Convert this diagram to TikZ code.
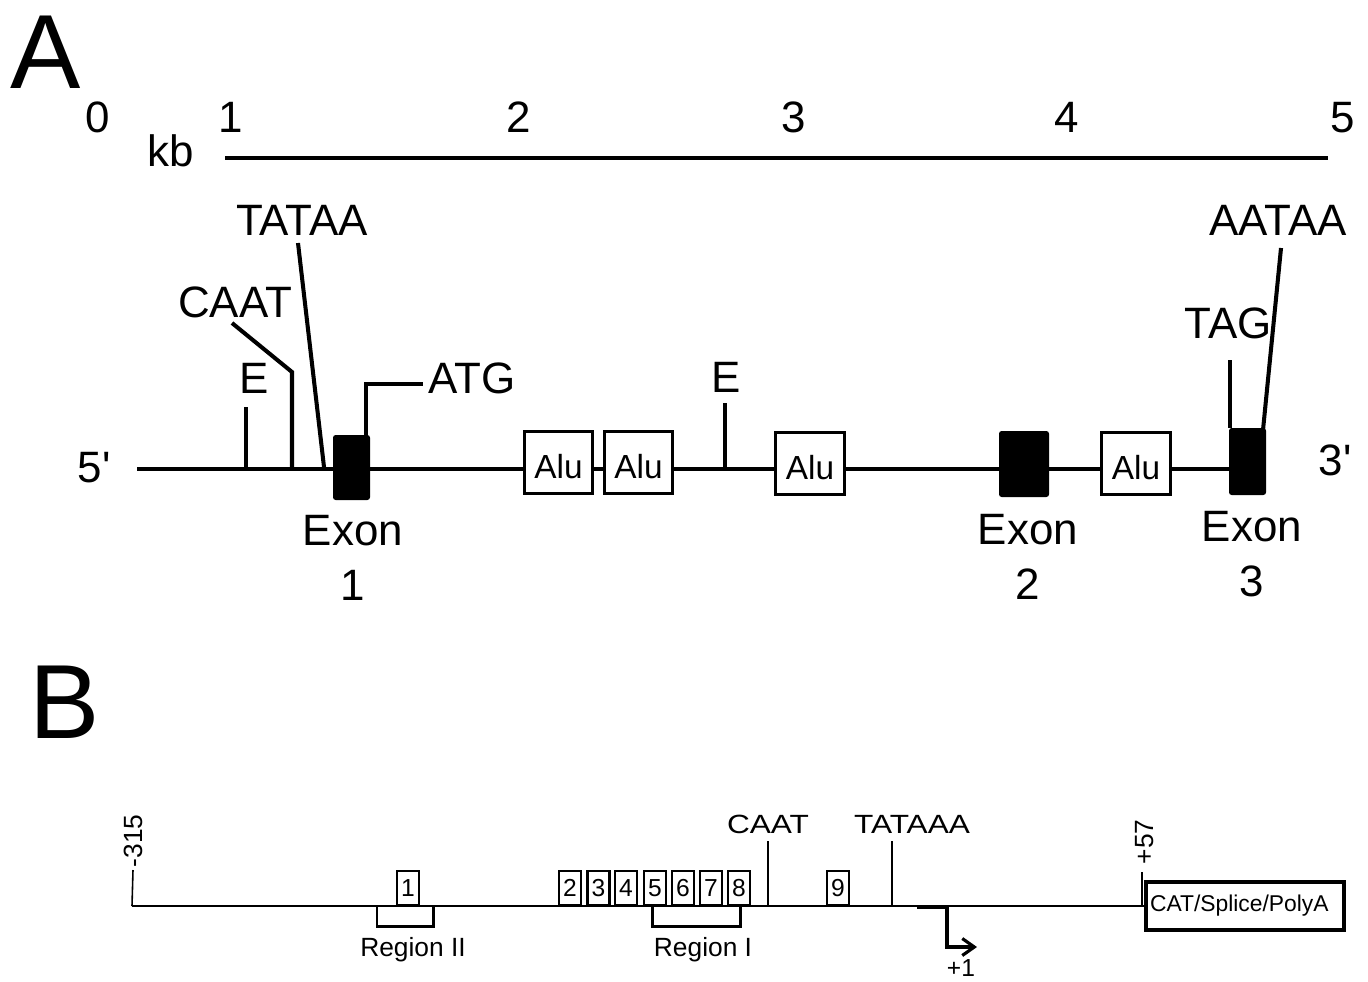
\documentclass[tikz,border=0pt]{standalone}
\usepackage{fontspec}
\setmainfont{Liberation Sans}
\newfontfamily\widesans[FakeStretch=1.2]{Liberation Sans}
\usetikzlibrary{arrows.meta, backgrounds}
\tikzset{
  panel/.style={anchor=base, font=\fontsize{60}{60}\selectfont},
  biglab/.style={anchor=base, font=\fontsize{25}{28}\selectfont},
  exonlab/.style={anchor=base, font=\fontsize{25}{30}\selectfont},
  smalllab/.style={anchor=base, font=\fontsize{15}{18}\selectfont},
  widelab/.style={anchor=base, font=\widesans\fontsize{15}{18}\selectfont},
  endlab/.style={rotate=90, inner sep=0pt, font=\fontsize{15}{18}\selectfont},
  strand/.style={line width=2.3pt},
  marker/.style={line width=2.3pt},
  kbline/.style={line width=2.8pt},
  alubox/.style={
    rectangle,
    draw,
    fill=white,
    line width=1.8pt,
    minimum width=1.37cm,
    minimum height=1.25cm,
    inner sep=0pt,
    text height=18pt,
    text depth=0pt,
    font=\fontsize{19}{21}\selectfont
  },
  exonbox/.style={rectangle, fill=black, rounded corners=1.5pt, inner sep=0pt, minimum height=1.3cm},
  promoter/.style={line width=1.6pt},
  site/.style={line width=0.9pt},
  sitebox/.style={
    rectangle,
    draw,
    fill=white,
    line width=1.3pt,
    minimum width=0.44cm,
    minimum height=0.68cm,
    inner sep=0pt,
    font=\fontsize{14}{16}\selectfont
  },
  bracket/.style={line width=1.7pt},
  reporter/.style={
    rectangle,
    draw,
    fill=white,
    line width=2.3pt,
    text width=3.8cm,
    align=left,
    inner xsep=0.08cm,
    minimum height=0.96cm,
    font=\fontsize{13}{15}\selectfont
  },
  tss/.style={-{Straight Barb[length=2.4mm, width=3.4mm]}, line width=1.8pt}
}

\begin{document}
\begin{tikzpicture}[x=0.02cm, y=-0.02cm]
\useasboundingbox (0,0) rectangle (1368,981);

% Panel A.
\node[panel] (panA) at (46,88) {A};

% Scale bar.
\foreach \x/\n in {98/0,231/1,519/2,794/3,1067/4,1343/5} {
  \node[biglab] (kb\n) at (\x,132) {\n};
}
\node[biglab] (kbunit) at (171,166) {kb};
\coordinate (kbstart) at (225,158);
\coordinate (kbend) at (1328,158);
\draw[kbline] (kbstart) -- (kbend);

% Gene: exons and Alu repeats.
\node[biglab] (end5) at (94,482) {5\textquotesingle};
\node[biglab] (end3) at (1335,475) {3\textquotesingle};
\node[exonbox, minimum width=0.74cm] (exon1) at (351.5,467.5) {};
\node[alubox] (alu1) at (558.5,462.5) {Alu};
\node[alubox] (alu2) at (638.5,462.5) {Alu};
\node[alubox] (alu3) at (810,463.5) {Alu};
\node[exonbox, minimum width=1.0cm, minimum height=1.32cm] (exon2) at (1024,464) {};
\node[alubox] (alu4) at (1136,463.5) {Alu};
\node[exonbox, minimum width=0.74cm, minimum height=1.34cm] (exon3) at (1247.5,461.5) {};

\coordinate (s5) at (137,469);
\begin{scope}[on background layer]
  \draw[strand] (s5) -- (s5 -| exon3.center);
\end{scope}

\node[exonlab] (exon1name) at (353,545) {Exon};
\node[exonlab] (exon1num) at (353,600) {1};
\node[exonlab] (exon2name) at (1028,544) {Exon};
\node[exonlab] (exon2num) at (1028,599) {2};
\node[exonlab] (exon3name) at (1252,541) {Exon};
\node[exonlab] (exon3num) at (1252,596) {3};

% Sites along the gene.
\node[biglab] (lblE1) at (254,393) {E};
\node[biglab] (lblCAAT) at (235,317) {CAAT};
\node[biglab] (lblTATAA) at (302,235) {TATAA};
\node[biglab] (lblATG) at (472,393) {ATG};
\node[biglab] (lblE2) at (726,392) {E};
\node[biglab] (lblTAG) at (1228,338) {TAG};
\node[biglab] (lblAATAA) at (1278,235) {AATAA};

\coordinate (e1top) at (246,407);
\coordinate (caattop) at (232,323);
\coordinate (caatknee) at (292,372);
\coordinate (tataatop) at (298,243);
\coordinate (tataabot) at (324,467);
\coordinate (atgknee) at (366,384);
\coordinate (atgend) at (423,384);
\coordinate (e2top) at (725,403);
\coordinate (tagtop) at (1230,360);
\coordinate (aatatop) at (1281,248);
\coordinate (aatabot) at (1263,430);

\draw[marker] (e1top) -- (e1top |- s5);
\draw[marker] (caattop) -- (caatknee) -- (caatknee |- s5);
\draw[marker] (tataatop) -- (tataabot);
\draw[marker] (atgknee |- exon1.north) -- (atgknee) -- (atgend);
\draw[marker] (e2top) -- (e2top |- s5);
\draw[marker] (tagtop) -- (tagtop |- exon3.north);
\draw[marker] (aatatop) -- (aatabot);

% Panel B.
\node[panel] (panB) at (65,738) {B};

\node[reporter] (catbox) at (1245,906) {CAT/Splice/PolyA};
\coordinate (bstart) at (132,906);
\draw[promoter] (bstart) -- (catbox.west);

% Ends of the promoter.
\node[endlab] (lbl315) at (133,841) {-315};
\node[endlab] (lbl57) at (1145,842) {+57};
\draw[site] (lbl315.west |- 0,870) -- (bstart);
\draw[site] (1142,872) coordinate (p57) -- (p57 |- bstart);

% Binding sites.
\node[sitebox] (site1) at (408,888) {1};
\foreach \i/\x in {2/570,3/598.5,4/626,5/655,6/683,7/711,8/739} {
  \node[sitebox] (site\i) at (\x,888) {\i};
}
\node[sitebox] (site9) at (838,888) {9};

% Regions.
\draw[bracket] (377,906) -- (377,926) -- (433,926) -- (433,906);
\node[smalllab] (reg2) at (413,956) {Region II};
\draw[bracket] (652,906) -- (652,926) -- (740,926) -- (740,906);
\node[smalllab] (reg1) at (703,956) {Region I};

% Promoter elements.
\node[widelab] (bCAAT) at (768,833) {CAAT};
\node[widelab] (bTATA) at (912,833) {TATAAA};
\draw[site] (768,841) coordinate (caatB) -- (caatB |- bstart);
\draw[site] (892,841) coordinate (tataB) -- (tataB |- bstart);

% Start of transcription.
\coordinate (tssleft) at (917,907);
\coordinate (tss) at (947,907);
\coordinate (tsstip) at (977,947);
\draw[tss] (tssleft) -- (tss) |- (tsstip);
\node[smalllab, font=\fontsize{14}{16}\selectfont] (plus1) at (961,976) {+1};

\end{tikzpicture}
\end{document}
